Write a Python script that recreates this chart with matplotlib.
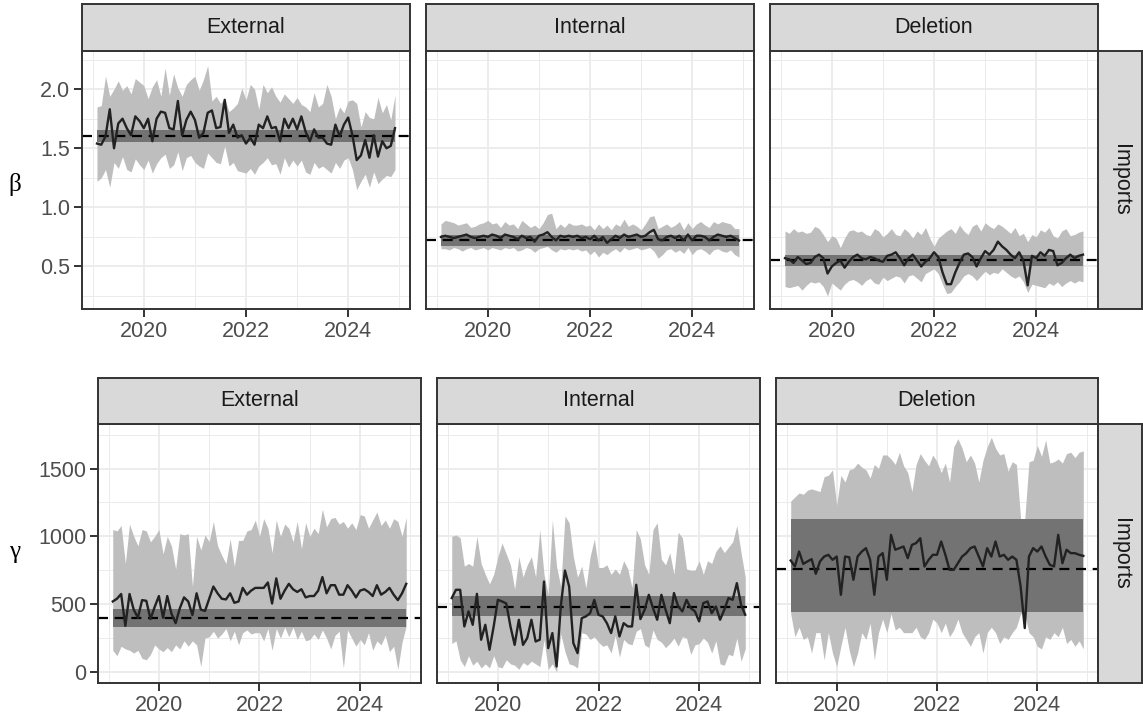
import numpy as np
import pandas as pd
import matplotlib
matplotlib.use("Agg")
import matplotlib.pyplot as plt

plt.rcParams['font.family'] = ['Liberation Sans', 'DejaVu Sans']

# monthly time points
dates = pd.date_range("2019-02-01", periods=71, freq="MS")
t = dates.year + (dates.month - 1) / 12.0

panels = ["External", "Internal", "Deletion"]
row_strip = "Imports"

# ---- beta (top row) ----
beta_ext_mid = [1.54, 1.53, 1.60, 1.83, 1.50, 1.71, 1.75, 1.67, 1.61, 1.77,
                1.73, 1.67, 1.75, 1.56, 1.75, 1.81, 1.80, 1.67, 1.66, 1.90,
                1.61, 1.74, 1.81, 1.74, 1.59, 1.63, 1.80, 1.82, 1.67, 1.68,
                1.91, 1.63, 1.70, 1.59, 1.61, 1.54, 1.59, 1.53, 1.70, 1.67,
                1.77, 1.67, 1.68, 1.56, 1.75, 1.67, 1.75, 1.66, 1.77, 1.64,
                1.56, 1.66, 1.59, 1.59, 1.54, 1.53, 1.70, 1.60, 1.70, 1.76,
                1.61, 1.40, 1.44, 1.57, 1.42, 1.61, 1.43, 1.56, 1.50, 1.52, 1.67]
beta_ext_hi = [1.85, 1.86, 2.11, 1.94, 2.00, 2.07, 1.99, 2.03, 1.96, 2.09,
               2.06, 2.03, 1.92, 2.02, 2.08, 1.94, 2.18, 1.95, 2.13, 2.01,
               1.94, 2.04, 2.08, 2.11, 1.99, 2.08, 2.20, 1.90, 1.94, 1.88,
               1.92, 1.81, 1.84, 1.88, 2.01, 1.91, 2.04, 2.00, 1.83, 2.04,
               1.97, 2.02, 1.94, 1.89, 1.96, 1.92, 1.88, 1.93, 1.87, 1.85,
               1.81, 1.97, 1.85, 1.88, 2.04, 1.94, 1.75, 1.85, 1.80, 1.90,
               1.91, 1.88, 1.68, 1.81, 1.76, 1.75, 1.93, 1.80, 1.87, 1.74, 1.95]
beta_ext_lo = [1.22, 1.25, 1.32, 1.17, 1.38, 1.33, 1.43, 1.32, 1.30, 1.41,
               1.36, 1.32, 1.40, 1.29, 1.37, 1.42, 1.45, 1.33, 1.36, 1.47,
               1.31, 1.42, 1.44, 1.38, 1.35, 1.33, 1.46, 1.42, 1.38, 1.37,
               1.52, 1.35, 1.38, 1.31, 1.30, 1.29, 1.33, 1.28, 1.35, 1.38,
               1.42, 1.36, 1.37, 1.28, 1.42, 1.34, 1.40, 1.35, 1.40, 1.30,
               1.28, 1.38, 1.33, 1.35, 1.32, 1.29, 1.38, 1.33, 1.40, 1.42,
               1.32, 1.15, 1.22, 1.28, 1.17, 1.30, 1.20, 1.24, 1.27, 1.26, 1.32]

beta_int_mid = [0.75, 0.76, 0.75, 0.74, 0.75, 0.76, 0.77, 0.75, 0.74, 0.75,
                0.76, 0.75, 0.77, 0.76, 0.74, 0.77, 0.76, 0.75, 0.73, 0.76,
                0.74, 0.75, 0.71, 0.76, 0.77, 0.79, 0.75, 0.72, 0.76, 0.75,
                0.76, 0.75, 0.76, 0.74, 0.75, 0.73, 0.76, 0.72, 0.75, 0.70,
                0.73, 0.76, 0.74, 0.77, 0.75, 0.76, 0.77, 0.75, 0.76, 0.79,
                0.81, 0.73, 0.72, 0.75, 0.76, 0.74, 0.76, 0.72, 0.77, 0.72,
                0.76, 0.76, 0.75, 0.72, 0.75, 0.77, 0.76, 0.75, 0.76, 0.74, 0.72]
beta_int_hi = [0.86, 0.89, 0.88, 0.87, 0.85, 0.86, 0.87, 0.83, 0.84, 0.86,
               0.87, 0.89, 0.86, 0.87, 0.83, 0.88, 0.85, 0.86, 0.82, 0.89,
               0.86, 0.83, 0.85, 0.82, 0.87, 0.94, 0.95, 0.82, 0.86, 0.83,
               0.87, 0.85, 0.85, 0.86, 0.84, 0.85, 0.81, 0.86, 0.82, 0.85,
               0.81, 0.86, 0.84, 0.90, 0.84, 0.86, 0.84, 0.81, 0.86, 0.92,
               0.93, 0.82, 0.84, 0.86, 0.83, 0.85, 0.88, 0.81, 0.87, 0.82,
               0.86, 0.88, 0.85, 0.83, 0.88, 0.86, 0.88, 0.87, 0.86, 0.82, 0.82]
beta_int_lo = [0.65, 0.65, 0.64, 0.66, 0.65, 0.63, 0.65, 0.66, 0.64, 0.65,
               0.66, 0.64, 0.66, 0.65, 0.64, 0.66, 0.65, 0.66, 0.63, 0.64,
               0.66, 0.65, 0.62, 0.65, 0.66, 0.67, 0.64, 0.62, 0.65, 0.64,
               0.65, 0.64, 0.65, 0.63, 0.64, 0.60, 0.63, 0.58, 0.62, 0.60,
               0.63, 0.65, 0.62, 0.66, 0.64, 0.65, 0.66, 0.64, 0.65, 0.66,
               0.63, 0.57, 0.60, 0.64, 0.65, 0.62, 0.64, 0.61, 0.66, 0.60,
               0.64, 0.65, 0.63, 0.60, 0.64, 0.65, 0.63, 0.62, 0.64, 0.60, 0.58]

beta_del_mid = [0.57, 0.56, 0.53, 0.58, 0.55, 0.52, 0.53, 0.58, 0.60, 0.57,
                0.44, 0.50, 0.53, 0.55, 0.49, 0.54, 0.58, 0.60, 0.57, 0.56,
                0.58, 0.57, 0.55, 0.54, 0.59, 0.60, 0.62, 0.57, 0.51, 0.57,
                0.60, 0.55, 0.50, 0.54, 0.57, 0.62, 0.58, 0.45, 0.35, 0.35,
                0.45, 0.53, 0.60, 0.61, 0.58, 0.50, 0.57, 0.63, 0.60, 0.64,
                0.71, 0.67, 0.64, 0.60, 0.57, 0.62, 0.55, 0.34, 0.59, 0.57,
                0.62, 0.59, 0.64, 0.63, 0.51, 0.53, 0.57, 0.60, 0.57, 0.59, 0.60]
beta_del_hi = [0.80, 0.78, 0.82, 0.79, 0.80, 0.78, 0.79, 0.84, 0.82, 0.77,
               0.71, 0.76, 0.74, 0.66, 0.74, 0.80, 0.81, 0.79, 0.80, 0.77,
               0.76, 0.82, 0.80, 0.75, 0.78, 0.82, 0.77, 0.76, 0.82, 0.79,
               0.74, 0.80, 0.77, 0.83, 0.74, 0.67, 0.74, 0.77, 0.80, 0.82,
               0.78, 0.85, 0.80, 0.77, 0.84, 0.86, 0.80, 0.87, 0.84, 0.82,
               0.86, 0.84, 0.81, 0.78, 0.83, 0.76, 0.78, 0.71, 0.77, 0.75,
               0.81, 0.79, 0.83, 0.76, 0.74, 0.80, 0.82, 0.76, 0.77, 0.79, 0.80]
beta_del_lo = [0.33, 0.32, 0.33, 0.34, 0.30, 0.34, 0.37, 0.36, 0.37, 0.33,
               0.25, 0.36, 0.33, 0.30, 0.35, 0.38, 0.39, 0.37, 0.34, 0.38,
               0.40, 0.36, 0.35, 0.41, 0.38, 0.40, 0.42, 0.41, 0.36, 0.42,
               0.43, 0.40, 0.37, 0.44, 0.46, 0.48, 0.44, 0.35, 0.27, 0.28,
               0.33, 0.37, 0.42, 0.44, 0.42, 0.38, 0.42, 0.46, 0.43, 0.45,
               0.44, 0.48, 0.45, 0.42, 0.40, 0.42, 0.37, 0.28, 0.35, 0.34,
               0.33, 0.32, 0.36, 0.34, 0.37, 0.33, 0.36, 0.38, 0.36, 0.38, 0.37]

beta_ref = [1.60, 0.72, 0.555]
beta_band_lo = [1.55, 0.67, 0.505]
beta_band_hi = [1.655, 0.77, 0.60]

# ---- gamma (bottom row) ----
gamma_ext_mid = [520, 540, 575, 340, 575, 460, 400, 530, 525, 390,
                 480, 560, 400, 560, 430, 360, 470, 550, 520, 420,
                 580, 460, 450, 540, 630, 580, 540, 535, 580, 510,
                 520, 620, 570, 600, 620, 620, 620, 660, 505, 690,
                 540, 600, 650, 610, 590, 610, 550, 560, 560, 600,
                 700, 580, 640, 640, 570, 570, 640, 600, 550, 600,
                 610, 590, 560, 640, 570, 590, 620, 570, 530, 580, 650]
gamma_ext_hi = [1050, 1040, 1080, 800, 1090, 1000, 930, 1050, 1040, 960,
                1000, 1050, 870, 1000, 930, 760, 1020, 1010, 1020, 630,
                1000, 900, 1010, 960, 1110, 930, 860, 800, 980, 780,
                970, 970, 1040, 1050, 1120, 1000, 1130, 1060, 880, 1120,
                1000, 1090, 1060, 960, 1110, 910, 1100, 1000, 1060, 1020,
                1200, 1070, 1130, 1140, 1090, 1110, 1060, 1100, 1050, 1160,
                1150, 1060, 1120, 1180, 1080, 1120, 1060, 1130, 1110, 1000, 1140]
gamma_ext_lo = [160, 120, 190, 170, 160, 140, 160, 100, 90, 130,
                200, 170, 150, 180, 150, 200, 170, 230, 190, 230,
                200, 40, 250, 260, 300, 250, 280, 320, 230, 300,
                200, 290, 310, 280, 290, 290, 230, 320, 160, 320,
                250, 330, 260, 330, 240, 300, 230, 240, 280, 240,
                310, 250, 170, 270, 300, 30, 310, 250, 190, 240,
                200, 290, 160, 230, 200, 270, 150, 190, 20, 220, 340]

gamma_int_mid = [545, 606, 606, 336, 447, 348, 576, 238, 348, 164,
                 336, 532, 520, 505, 336, 200, 385, 200, 250, 385,
                 225, 238, 667, 176, 287, 41, 483, 748, 630, 213,
                 139, 397, 410, 434, 532, 422, 410, 360, 287, 410,
                 262, 360, 336, 336, 643, 390, 459, 569, 471, 385,
                 569, 459, 360, 582, 483, 447, 532, 471, 447, 373,
                 508, 520, 434, 483, 385, 459, 545, 532, 655, 495, 422]
gamma_int_hi = [1000, 1010, 990, 780, 800, 780, 1000, 800, 720, 650,
                720, 850, 950, 870, 790, 610, 850, 700, 790, 850,
                700, 1050, 720, 570, 1120, 780, 630, 1150, 1100, 850,
                700, 780, 620, 850, 980, 770, 770, 790, 720, 760,
                720, 820, 760, 620, 1050, 980, 790, 720, 1050, 1100,
                830, 790, 880, 720, 1030, 990, 760, 750, 750, 820,
                720, 820, 800, 890, 930, 880, 920, 960, 1080, 880, 700]
gamma_int_lo = [210, 230, 90, 40, 120, 50, 80, 30, 60, 30,
                120, 40, 30, 90, 60, 50, 20, 70, 50, 80,
                60, 40, 240, 20, 60, 0, 280, 150, 60, 50,
                30, 290, 280, 240, 260, 220, 190, 200, 140, 270,
                110, 240, 210, 200, 300, 320, 200, 180, 310, 240,
                220, 180, 210, 250, 190, 260, 250, 130, 200, 210,
                250, 220, 140, 230, 60, 50, 130, 120, 250, 80, 170]

gamma_del_mid = [822, 778, 888, 797, 815, 832, 724, 815, 851, 864,
                 827, 851, 569, 851, 846, 680, 851, 888, 913, 827,
                 569, 851, 876, 680, 1011, 901, 913, 925, 839, 937,
                 950, 986, 778, 827, 864, 864, 962, 864, 753, 753,
                 802, 851, 876, 913, 925, 851, 778, 913, 851, 962,
                 851, 864, 827, 851, 827, 631, 324, 851, 913, 888,
                 925, 851, 790, 778, 1011, 802, 901, 876, 876, 864, 856]
gamma_del_hi = [1260, 1290, 1320, 1310, 1340, 1350, 1340, 1330, 1440, 1450,
                1490, 1230, 1450, 1400, 1490, 1500, 1540, 1510, 1490, 1430,
                1530, 1500, 1600, 1600, 1570, 1530, 1620, 1520, 1470, 1330,
                1530, 1610, 1560, 1520, 1600, 1550, 1470, 1540, 1400, 1660,
                1720, 1650, 1550, 1600, 1540, 1400, 1560, 1660, 1730, 1650,
                1600, 1610, 1480, 1550, 1530, 1130, 1130, 1550, 1560, 1670,
                1590, 1710, 1540, 1550, 1570, 1540, 1610, 1620, 1580, 1620, 1630]
gamma_del_lo = [430, 260, 330, 240, 260, 140, 290, 290, 90, 290,
                140, 40, 190, 330, 160, 40, 140, 290, 240, 360,
                90, 290, 390, 290, 430, 310, 330, 290, 290, 290,
                330, 260, 240, 290, 390, 360, 290, 360, 260, 310,
                390, 290, 240, 190, 260, 290, 140, 290, 330, 290,
                210, 260, 240, 290, 330, 430, 430, 290, 260, 190,
                170, 260, 240, 290, 260, 330, 210, 240, 190, 230, 170]

gamma_ref = [395, 478, 760]
gamma_band_lo = [330, 410, 440]
gamma_band_hi = [466, 562, 1130]

W, H = 1143, 723
fig = plt.figure(figsize=(W / 100, H / 100), dpi=100)


def rect(x0, y0, x1, y1):
    return [x0 / W, 1 - y1 / H, (x1 - x0) / W, (y1 - y0) / H]


def strip(r, text, rot=0):
    s = fig.add_axes(rect(*r))
    s.set_facecolor("#D9D9D9")
    s.set_xticks([])
    s.set_yticks([])
    for sp in s.spines.values():
        sp.set_color("#333333")
        sp.set_linewidth(1.4)
    s.text(0.5, 0.5, text, ha="center", va="center", rotation=rot,
           fontsize=15.5, color="#1A1A1A", transform=s.transAxes)


def panel(r, mid, lo, hi, ref, blo, bhi, ylim, yticks, yminor, fmt, show_y):
    ax = fig.add_axes(rect(*r))
    ax.fill_between(t, lo, hi, color="#BEBEBE", lw=0, zorder=1)
    ax.fill_between([t[0], t[-1]], [blo, blo], [bhi, bhi], color="#737373", lw=0, zorder=2)
    ax.axhline(ref, color="black", lw=1.6, dashes=(4.5, 3), zorder=3)
    ax.plot(t, mid, color="#222222", lw=1.7, zorder=4)
    ax.set_xlim(2018.79, 2025.21)
    ax.set_ylim(*ylim)
    ax.set_xticks([2020, 2022, 2024])
    ax.set_xticklabels(["2020", "2022", "2024"])
    ax.set_xticks([2019, 2021, 2023, 2025], minor=True)
    ax.set_yticks(yticks)
    ax.set_yticks(yminor, minor=True)
    ax.set_yticklabels([fmt.format(v) for v in yticks])
    ax.grid(which="major", color="#EBEBEB", lw=1.3, zorder=0)
    ax.grid(which="minor", color="#EBEBEB", lw=0.7, zorder=0)
    ax.set_axisbelow(True)
    ax.tick_params(which="major", length=5.5, width=1.4, color="#333333",
                   labelsize=15.5, labelcolor="#4D4D4D", pad=3)
    ax.tick_params(which="minor", length=0)
    if not show_y:
        ax.tick_params(axis="y", which="both", length=0, labelleft=False)
    for sp in ax.spines.values():
        sp.set_color("#333333")
        sp.set_linewidth(1.4)
        sp.set_zorder(10)
    return ax


top_x = [(82, 410), (426, 754), (770, 1098)]
bot_x = [(98, 421), (437, 760), (776, 1098)]
beta_data = [(beta_ext_mid, beta_ext_lo, beta_ext_hi),
             (beta_int_mid, beta_int_lo, beta_int_hi),
             (beta_del_mid, beta_del_lo, beta_del_hi)]
gamma_data = [(gamma_ext_mid, gamma_ext_lo, gamma_ext_hi),
              (gamma_int_mid, gamma_int_lo, gamma_int_hi),
              (gamma_del_mid, gamma_del_lo, gamma_del_hi)]

for i, (x0, x1) in enumerate(top_x):
    mid, lo, hi = beta_data[i]
    panel((x0, 51, x1, 309), mid, lo, hi, beta_ref[i], beta_band_lo[i], beta_band_hi[i],
          (0.14, 2.323), [0.5, 1.0, 1.5, 2.0], [0.25, 0.75, 1.25, 1.75, 2.25],
          "{:.1f}", i == 0)
    strip((x0, 4, x1, 51), panels[i])
strip((1098, 51, 1142, 309), row_strip, rot=270)

for i, (x0, x1) in enumerate(bot_x):
    mid, lo, hi = gamma_data[i]
    panel((x0, 424, x1, 683), mid, lo, hi, gamma_ref[i], gamma_band_lo[i], gamma_band_hi[i],
          (-81, 1828), [0, 500, 1000, 1500], [250, 750, 1250, 1750],
          "{:d}", i == 0)
    strip((x0, 378, x1, 424), panels[i])
strip((1098, 424, 1142, 683), row_strip, rot=270)

fig.text(15 / W, 1 - 185 / H, "β", fontsize=18, family=["Liberation Serif", "DejaVu Serif"],
         ha="center", va="center")
fig.text(15 / W, 1 - 552 / H, "γ", fontsize=18, family=["Liberation Serif", "DejaVu Serif"],
         ha="center", va="center")

fig.savefig("out.png", dpi=100)
